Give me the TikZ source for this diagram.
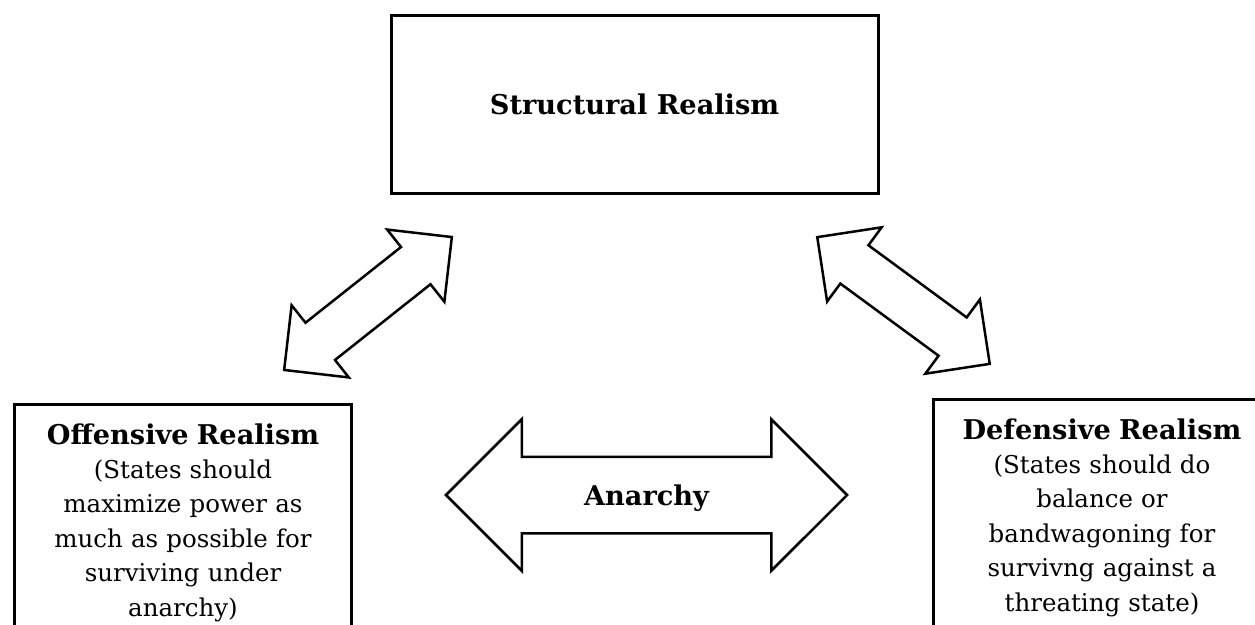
\documentclass[tikz,border=0pt]{standalone}
\usepackage{fontspec}
\setmainfont{DejaVu Serif}
\usetikzlibrary{shapes.arrows}
\newcommand{\headline}[1]{{\fontsize{27.2}{34.4}\selectfont\bfseries #1}}
\begin{document}
\begin{tikzpicture}[x=1pt, y=-1pt, font=\fontsize{24.5}{34.4}\selectfont,
	box/.style={shape=rectangle, draw, line width=3pt},
	realismbox/.style={box, anchor=north west, text width=317pt, inner xsep=10pt, inner ysep=19pt, align=center},
	dblarrow/.style={shape=double arrow, draw, line width=2.5pt, double arrow tip angle=90, inner xsep=0pt}]
	\path[use as bounding box, clip] (0, 0) rectangle (1255, 624);
	% Boxes, arrows and labels:
	\node[box, minimum width=487pt, minimum height=178pt] (structural) at (634.5, 104){\headline{Structural Realism}};
	\node[realismbox] (offensive) at (13, 403){\headline{Offensive Realism}\\(States should\\maximize power as\\much as possible for\\surviving under\\anarchy)};
	\node[realismbox] (defensive) at (932, 398){\headline{Defensive Realism}\\(States should do\\balance or\\bandwagoning for\\survivng against a\\threating state)};
	\node[dblarrow, minimum height=214pt, inner ysep=22.5pt, double arrow head extend=22.3pt, rotate=38.4] (leftlink) at (368, 303.5){};
	\node[dblarrow, minimum height=214pt, inner ysep=22.5pt, double arrow head extend=22.3pt, rotate=-36.3] (rightlink) at (903.5, 300.5){};
	\node[dblarrow, minimum height=401pt, inner ysep=27pt, text height=20pt, text depth=0pt, double arrow head extend=37.5pt] (anarchy) at (646.5, 495){\headline{Anarchy}};
\end{tikzpicture}
\end{document}
